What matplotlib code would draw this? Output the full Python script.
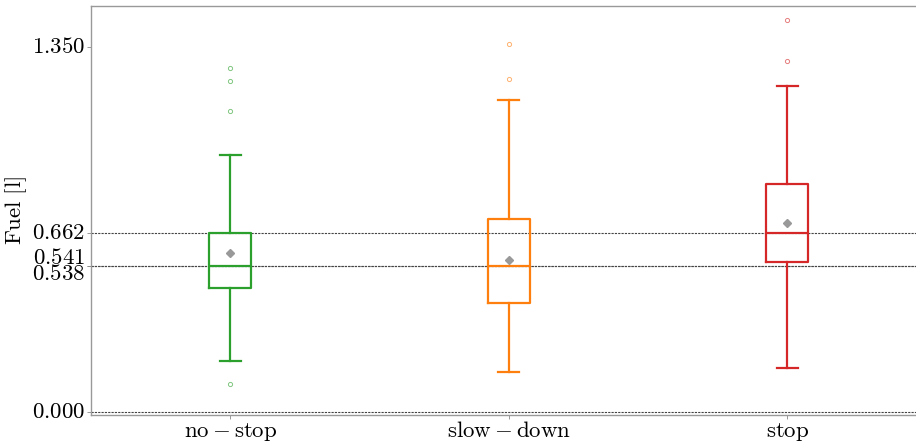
import numpy as np
import matplotlib.pyplot as plt
import matplotlib.transforms as mtransforms

plt.rcParams['font.family'] = 'serif'
plt.rcParams['font.serif'] = ['cmr10', 'DejaVu Serif']
plt.rcParams['mathtext.fontset'] = 'cm'
plt.rcParams['axes.unicode_minus'] = False

# values (fuel in litres)
categories = [r'$\mathrm{no-stop}$', r'$\mathrm{slow-down}$', r'$\mathrm{stop}$']
colors = ['#2ca02c', '#ff7f0e', '#d62728']
whislo = [0.189, 0.148, 0.163]
q1 = [0.459, 0.403, 0.555]
med = [0.538, 0.541, 0.662]
q3 = [0.662, 0.714, 0.843]
whishi = [0.950, 1.154, 1.206]
means = [0.588, 0.562, 0.699]
fliers = [[1.272, 1.224, 1.113, 0.104], [1.361, 1.231], [1.450, 1.298]]

ref_lines = [0.0, 0.538, 0.541, 0.662]
ytick_vals = [0.0, 0.538, 0.541, 0.662, 1.350]
ytick_labels = ['$0.000$', '$0.538$', '$0.541$', '$0.662$', '$1.350$']
# pixel shift of each y tick label (the two close ones are pushed apart)
ytick_shift = [0, -8, 8, 0, 0]

fs = 16.5
fig = plt.figure(figsize=(9.16, 4.41), dpi=100)
ax = fig.add_axes([0.0993, 0.059, 0.9007, 0.927])

for i in range(len(categories)):
    stats = [dict(whislo=whislo[i], q1=q1[i], med=med[i], q3=q3[i],
                  whishi=whishi[i], mean=means[i], fliers=fliers[i])]
    c = colors[i]
    ax.bxp(stats, positions=[i + 1], widths=0.15, showmeans=True,
           boxprops=dict(color=c, linewidth=1.6),
           medianprops=dict(color=c, linewidth=1.6),
           whiskerprops=dict(color=c, linewidth=1.6),
           capprops=dict(color=c, linewidth=1.6),
           flierprops=dict(marker='o', markersize=3, markerfacecolor='none',
                           markeredgecolor=c, markeredgewidth=0.7, alpha=0.6),
           meanprops=dict(marker='D', markersize=4.5, markerfacecolor='#999999',
                          markeredgecolor='#999999'))

for v in ref_lines:
    ax.axhline(v, color='#444444', linestyle='--', linewidth=0.8, dashes=(2, 1), zorder=0)

ax.set_xlim(0.5, 3.462)
ax.set_ylim(-0.011, 1.5)
ax.set_xticks([1, 2, 3])
ax.set_xticklabels(categories, fontsize=fs)
ax.set_yticks(ytick_vals)
ax.set_yticklabels([])
ax.set_ylabel(r'$\mathrm{Fuel\ [l]}$', fontsize=fs)
ax.yaxis.set_label_coords(-0.075, 0.5)

# y tick labels drawn as texts so the two close ones can be spread apart
ytrans = mtransforms.blended_transform_factory(ax.transAxes, ax.transData)
for v, lab, dy in zip(ytick_vals, ytick_labels, ytick_shift):
    t = ytrans + mtransforms.ScaledTranslation(-6 / 100, dy / 100, fig.dpi_scale_trans)
    ax.text(0, v, lab, transform=t, ha='right', va='center', fontsize=fs)

ax.tick_params(axis='both', length=3, width=0.6, color='#888888', pad=1)
for side in ['left', 'top', 'bottom']:
    ax.spines[side].set_color('#999999')
    ax.spines[side].set_linewidth(1.0)
ax.spines['right'].set_visible(False)

fig.savefig('out.png', dpi=100)
